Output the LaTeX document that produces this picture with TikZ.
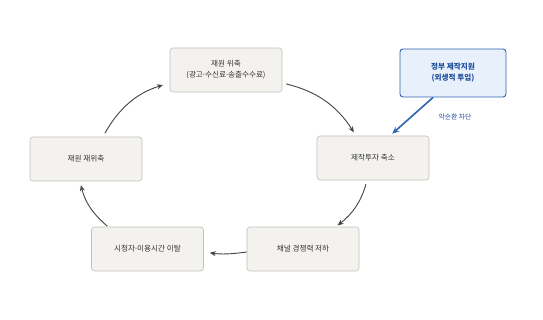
\documentclass[tikz,border=0pt]{standalone}
\usepackage{fontspec}
\setmainfont{Noto Sans CJK KR}
\newfontfamily\latinfont{Noto Sans}
\newcommand{\mdot}{{\latinfont ·}}
\usetikzlibrary{arrows.meta}
\definecolor{boxfill}{HTML}{F3F2EF}
\definecolor{boxline}{HTML}{C0C0BC}
\definecolor{txt}{HTML}{333333}
\definecolor{govfill}{HTML}{E8F0FB}
\definecolor{govline}{HTML}{2E63B0}
\definecolor{govtxt}{HTML}{1E4F9C}
\definecolor{arr}{HTML}{444444}
\tikzset{
  cyclebox/.style={draw=boxline, fill=boxfill, rounded corners=3pt, line width=0.6pt,
    minimum width=112pt, minimum height=44pt, inner sep=0pt, align=center,
    text=txt, font=\fontsize{7.6}{11}\selectfont},
  govbox/.style={draw=govline, fill=govfill, rounded corners=3pt, line width=0.9pt,
    minimum width=106pt, minimum height=48pt, inner sep=0pt, align=center,
    text=govtxt, font=\fontsize{7.6}{11}\selectfont\bfseries},
  cyc/.style={draw=arr, line width=0.9pt, -{Stealth[length=6pt,width=5pt]}},
  govarr/.style={draw=govline, line width=1.6pt, -{Stealth[length=7pt,width=6pt]}}
}
\begin{document}
\begin{tikzpicture}[x=1pt,y=1pt]
\useasboundingbox[fill=white] (0,0) rectangle (543,319);
\node[cyclebox] (T) at (226,249) {재원 위축\\(광고\mdot 수신료\mdot 송출수수료)};
\node[govbox] (G) at (453,246) {정부 제작지원\\(외생적 투입)};
\node[cyclebox] (L) at (86,160) {재원 재위축};
\node[cyclebox] (R) at (373,161) {제작투자 축소};
\node[cyclebox] (BL) at (147.5,70) {시청자\mdot 이용시간 이탈};
\node[cyclebox] (BR) at (303,70) {채널 경쟁력 저하};
\draw[cyc, shorten <=4pt, shorten >=7pt] ([xshift=17pt]L.north) to[bend left=22] ([yshift=-13pt]T.west);
\draw[cyc, shorten <=4pt, shorten >=4pt] ([yshift=-13pt]T.east) to[bend left=22] ([xshift=-17pt]R.north);
\draw[cyc, shorten <=4pt, shorten >=2pt] ([xshift=-6pt]R.south) to[bend left=18] ([xshift=33pt]BR.north);
\draw[cyc, shorten <=0pt, shorten >=6pt] ([yshift=-3pt]BR.west) to[bend left=8] ([yshift=-3pt]BL.east);
\draw[cyc, shorten <=1pt, shorten >=4pt] ([xshift=-39.5pt]BL.north) to[bend left=18] ([xshift=-6pt]L.south);
\draw[govarr, shorten >=3pt] ([xshift=-20pt]G.south) -- ([xshift=17pt]R.north);
\node[text=govtxt, font=\fontsize{6.8}{8}\selectfont] (lab) at (455,202) {악순환 차단};
\end{tikzpicture}
\end{document}
